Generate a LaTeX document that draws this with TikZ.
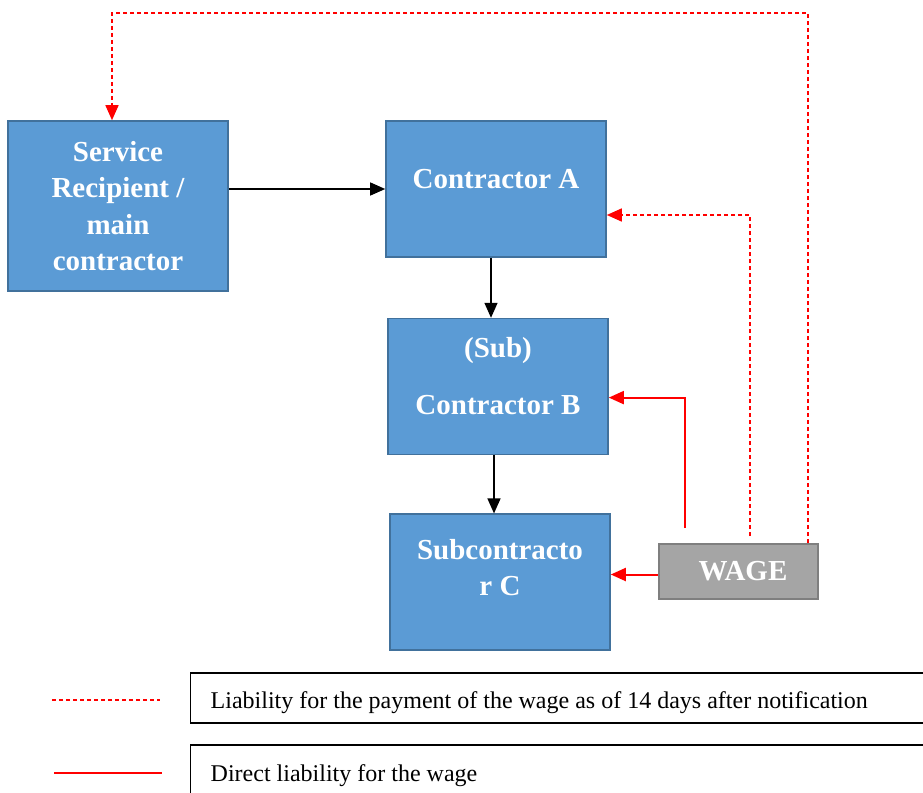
\documentclass[tikz,border=0pt]{standalone}
\usepackage{fontspec}
\setmainfont{Liberation Serif}
\usetikzlibrary{arrows.meta, positioning}
\definecolor{boxblue}{RGB}{91,155,213}
\definecolor{boxedge}{RGB}{65,113,156}
\definecolor{wagegray}{RGB}{165,165,165}
\definecolor{wageedge}{RGB}{127,127,127}
\definecolor{linkred}{RGB}{255,0,0}

\begin{document}
\begin{tikzpicture}[x=1pt, y=-1pt,
    party/.style={rectangle, draw=boxedge, line width=1.6pt, fill=boxblue, text=white,
        minimum width=220pt, minimum height=136pt, align=center,
        font=\bfseries\fontsize{29}{36.5}\selectfont},
    wagebox/.style={rectangle, draw=wageedge, line width=2pt, fill=wagegray, text=white,
        minimum width=159pt, minimum height=55pt, font=\bfseries\fontsize{29}{36}\selectfont},
    legendbox/.style={rectangle, draw=black, line width=1.4pt, anchor=west, text width=696pt,
        inner xsep=20pt, align=left, font=\fontsize{24}{28}\selectfont,
        text height=27pt, text depth=5.5pt,
        execute at begin node={\spaceskip=0pt\xspaceskip=0pt\relax}},
    flow/.style={-{Triangle[length=15pt, width=13pt]}, line width=1.4pt},
    direct/.style={-{Triangle[length=15pt, width=13pt, fill=linkred]}, draw=linkred, line width=2pt},
    notice/.style={-{Triangle[length=15pt, width=13pt, fill=linkred]}, draw=linkred, line width=1.5pt,
        dash pattern=on 4pt off 3pt}]
    \useasboundingbox (0,0) rectangle (923,792);

    % Parties
    \node[party, minimum height=170pt] (svc) at (118,206) {Service\\Recipient /\\main\\contractor};
    \node[party, text depth=21pt] (ca) at (496,189) {Contractor A};
    \node[party, text depth=21pt, below=60pt of ca, xshift=2pt] (cb) {(Sub)\\[20pt]Contractor B};
    \node[party, text depth=30pt, below=58pt of cb, xshift=2pt] (cc) {Subcontracto\\r C};

    % Wage
    \node[wagebox] (wage) at (738.5,571.5) {\hspace{9pt}WAGE};

    % Chain of contracts
    \draw[flow] (svc.east |- ca.west) -- (ca.west);
    \draw[flow] ([xshift=-5pt]ca.south) -- ([xshift=-5pt]ca.south |- cb.north);
    \draw[flow] ([xshift=-4pt]cb.south) -- ([xshift=-4pt]cb.south |- cc.north);

    % Liability
    \coordinate (outer) at (808,13);
    \coordinate (inner) at (750,536);
    \coordinate (direct) at (685,528);
    \draw[notice] (outer |- wage.north) -- (outer) -| ([xshift=-6pt]svc.north);
    \draw[notice] (inner) |- ([yshift=-26pt]ca.east);
    \draw[direct] (direct) |- ([yshift=-11pt]cb.east);
    \draw[direct] ([yshift=-3pt]wage.west) -- ([yshift=-3pt]wage.west -| cc.east);

    % Legend
    \node[legendbox, minimum height=50pt] (key1) at (190,698) {Liability for the payment of the wage as of 14 days after notification};
    \node[legendbox, minimum height=52pt] (key2) at (190,771) {Direct liability for the wage};
    \coordinate (dash1) at (52,700);
    \coordinate (dash2) at (160,700);
    \coordinate (line1) at (54,773);
    \coordinate (line2) at (162,773);
    \draw[linkred, line width=1.3pt, dash pattern=on 4pt off 3pt] (dash1) -- (dash2);
    \draw[linkred, line width=1.4pt] (line1) -- (line2);
\end{tikzpicture}
\end{document}
